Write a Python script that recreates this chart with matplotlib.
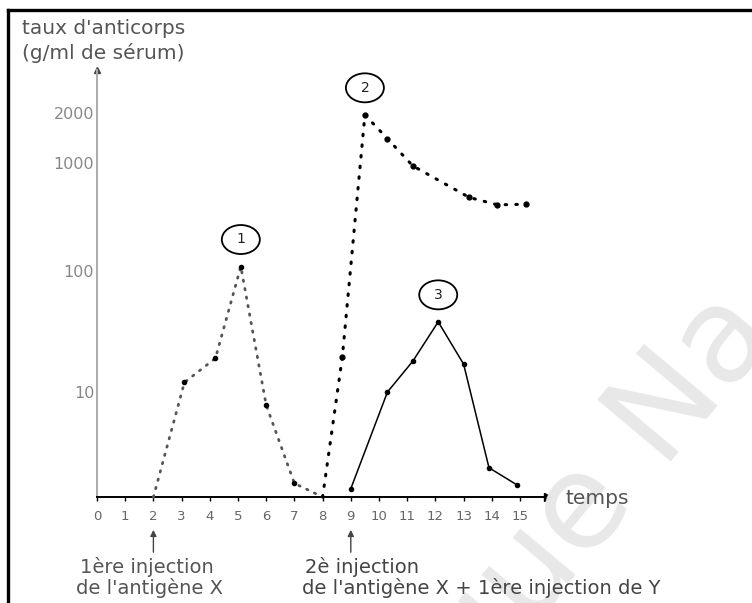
import numpy as np
import matplotlib
matplotlib.use('Agg')
import matplotlib.pyplot as plt
from matplotlib.lines import Line2D
from matplotlib.patches import Ellipse
from matplotlib.transforms import IdentityTransform
from matplotlib.ticker import NullLocator

# temps (jours) et taux d'anticorps
jours = list(range(16))
y_ticks = [10, 100, 1000, 2000]
y_labels = ['10', '100', '1000', '2000']

# courbe 1 : 1ere injection de X
t1 = [2, 3.1, 4.2, 5.1, 6, 7, 8]
v1 = [1, 12, 19, 110, 7.5, 1.35, 1]
# courbe 2 : 2e injection de X
t2 = [8, 8.7, 9.5, 10.3, 11.2, 13.2, 14.2, 15.2]
v2 = [1, 19.5, 1950, 1400, 940, 480, 410, 415]
# courbe 3 : 1ere injection de Y
t3 = [9, 10.3, 11.2, 12.1, 13, 13.9, 14.9]
v3 = [1.2, 10, 18, 38, 17, 1.9, 1.3]

# graduation dessinee a la main : decades pas tout a fait regulieres
LOGS = [-2, 0, 1, 2, 3, np.log10(2000), 5]
POS = [-2.1, 0, 1.05, 2.26, 3.34, 3.84, 5.34]


def forward(v):
    v = np.clip(np.asarray(v, dtype=float), 1e-6, None)
    return np.interp(np.log10(v), LOGS, POS)


def inverse(u):
    return 10 ** np.interp(np.asarray(u, dtype=float), POS, LOGS)


fig = plt.figure(figsize=(7.52, 6.03), dpi=100)
ax = fig.add_axes([80/752, 93/603, 490/752, 450/603])
ax.set_yscale('function', functions=(forward, inverse))
ax.set_xlim((80-97)/28.2, (570-97)/28.2)
ax.set_ylim(float(inverse(-0.13)), float(inverse(4.37)))

# axes
for s in ['top', 'right']:
    ax.spines[s].set_visible(False)
ax.spines['bottom'].set_position(('data', 1))
ax.spines['bottom'].set_bounds(0, 15.9)
ax.spines['bottom'].set_linewidth(1.4)
ax.spines['left'].set_position(('data', 0))
ax.spines['left'].set_bounds(1, float(inverse(4.27)))
ax.spines['left'].set_color('#aaaaaa')
ax.spines['left'].set_linewidth(1.4)
ax.plot(16, 1, marker='>', color='k', ms=6, clip_on=False)
ax.plot(0, float(inverse(4.27)), marker='^', color='#444444', ms=4.5, clip_on=False)

ax.set_xticks(jours)
ax.set_xticklabels([str(j) for j in jours])
ax.tick_params(axis='x', length=3, width=1, color='k', pad=6,
               labelsize=9.5, labelcolor='#666666')
ax.set_yticks(y_ticks)
ax.set_yticklabels(y_labels)
ax.yaxis.set_minor_locator(NullLocator())
ax.tick_params(axis='y', length=0, pad=2, labelsize=11.5, labelcolor='#888888')

# courbes
ax.plot(t1, v1, color='#555555', lw=2, linestyle=(0, (0.5, 2.6)),
        dash_capstyle='round', zorder=3)
ax.plot(t1[1:-1], v1[1:-1], 'o', color='k', ms=3, zorder=4)
ax.plot(t2, v2, color='k', lw=2.2, linestyle=(0, (0.5, 3.0)),
        dash_capstyle='round', zorder=3)
ax.plot(t2[1:], v2[1:], 'o', color='k', ms=3.5, zorder=4)
ax.plot(t3, v3, color='k', lw=1.1, marker='o', ms=3, zorder=3)

# numeros entoures
for num, t, v in [('1', t1[3], v1[3]), ('2', t2[2], v2[2]), ('3', t3[3], v3[3])]:
    ax.annotate(num, xy=(t, v), xytext=(0, 19.5), textcoords='offset points',
                ha='center', va='center', fontsize=10, color='#222222', zorder=6)
    px, py = ax.transData.transform((t, v))
    fig.add_artist(Ellipse((px, py + 27), 38, 29, transform=IdentityTransform(),
                           fc='none', ec='k', lw=1.3, zorder=5))

# fleches des injections
for t in [2, 9]:
    ax.annotate('', xy=(t, -0.038), xycoords=('data', 'axes fraction'),
                xytext=(t, -0.1), textcoords=('data', 'axes fraction'),
                annotation_clip=False,
                arrowprops=dict(arrowstyle='-|>', color='#444444', lw=1,
                                mutation_scale=9))

# textes
fig.text(22/752, 1-28/603, "taux d'anticorps", fontsize=14.5, color='#555555',
         va='center', ha='left')
fig.text(22/752, 1-53/603, "(g/ml de sérum)", fontsize=14.5, color='#555555',
         va='center', ha='left')
fig.text(566/752, 1-499/603, "temps", fontsize=14.5, color='#555555',
         va='center', ha='left')
fig.text(80/752, 1-567/603, "1ère injection", fontsize=14, color='#555555',
         va='center', ha='left')
fig.text(76/752, 1-588/603, "de l'antigène X", fontsize=14, color='#555555',
         va='center', ha='left')
fig.text(305/752, 1-567/603, "2è injection", fontsize=14, color='#444444',
         va='center', ha='left')
fig.text(302/752, 1-588/603, "de l'antigène X + 1ère injection de Y", fontsize=14,
         color='#444444', va='center', ha='left')

# filigrane
fig.text(600/752, 1-490/603, "que Na", fontsize=95, color='#e8e8e8',
         rotation=50, rotation_mode='anchor', ha='center', va='center', zorder=0)

# cadre
fig.add_artist(Line2D([8/752, 8/752], [0, 1-10/603], color='k', lw=2.4))
fig.add_artist(Line2D([8/752, 1], [1-10/603, 1-10/603], color='k', lw=2.4))

plt.savefig('out.png', dpi=100)
plt.close('all')
